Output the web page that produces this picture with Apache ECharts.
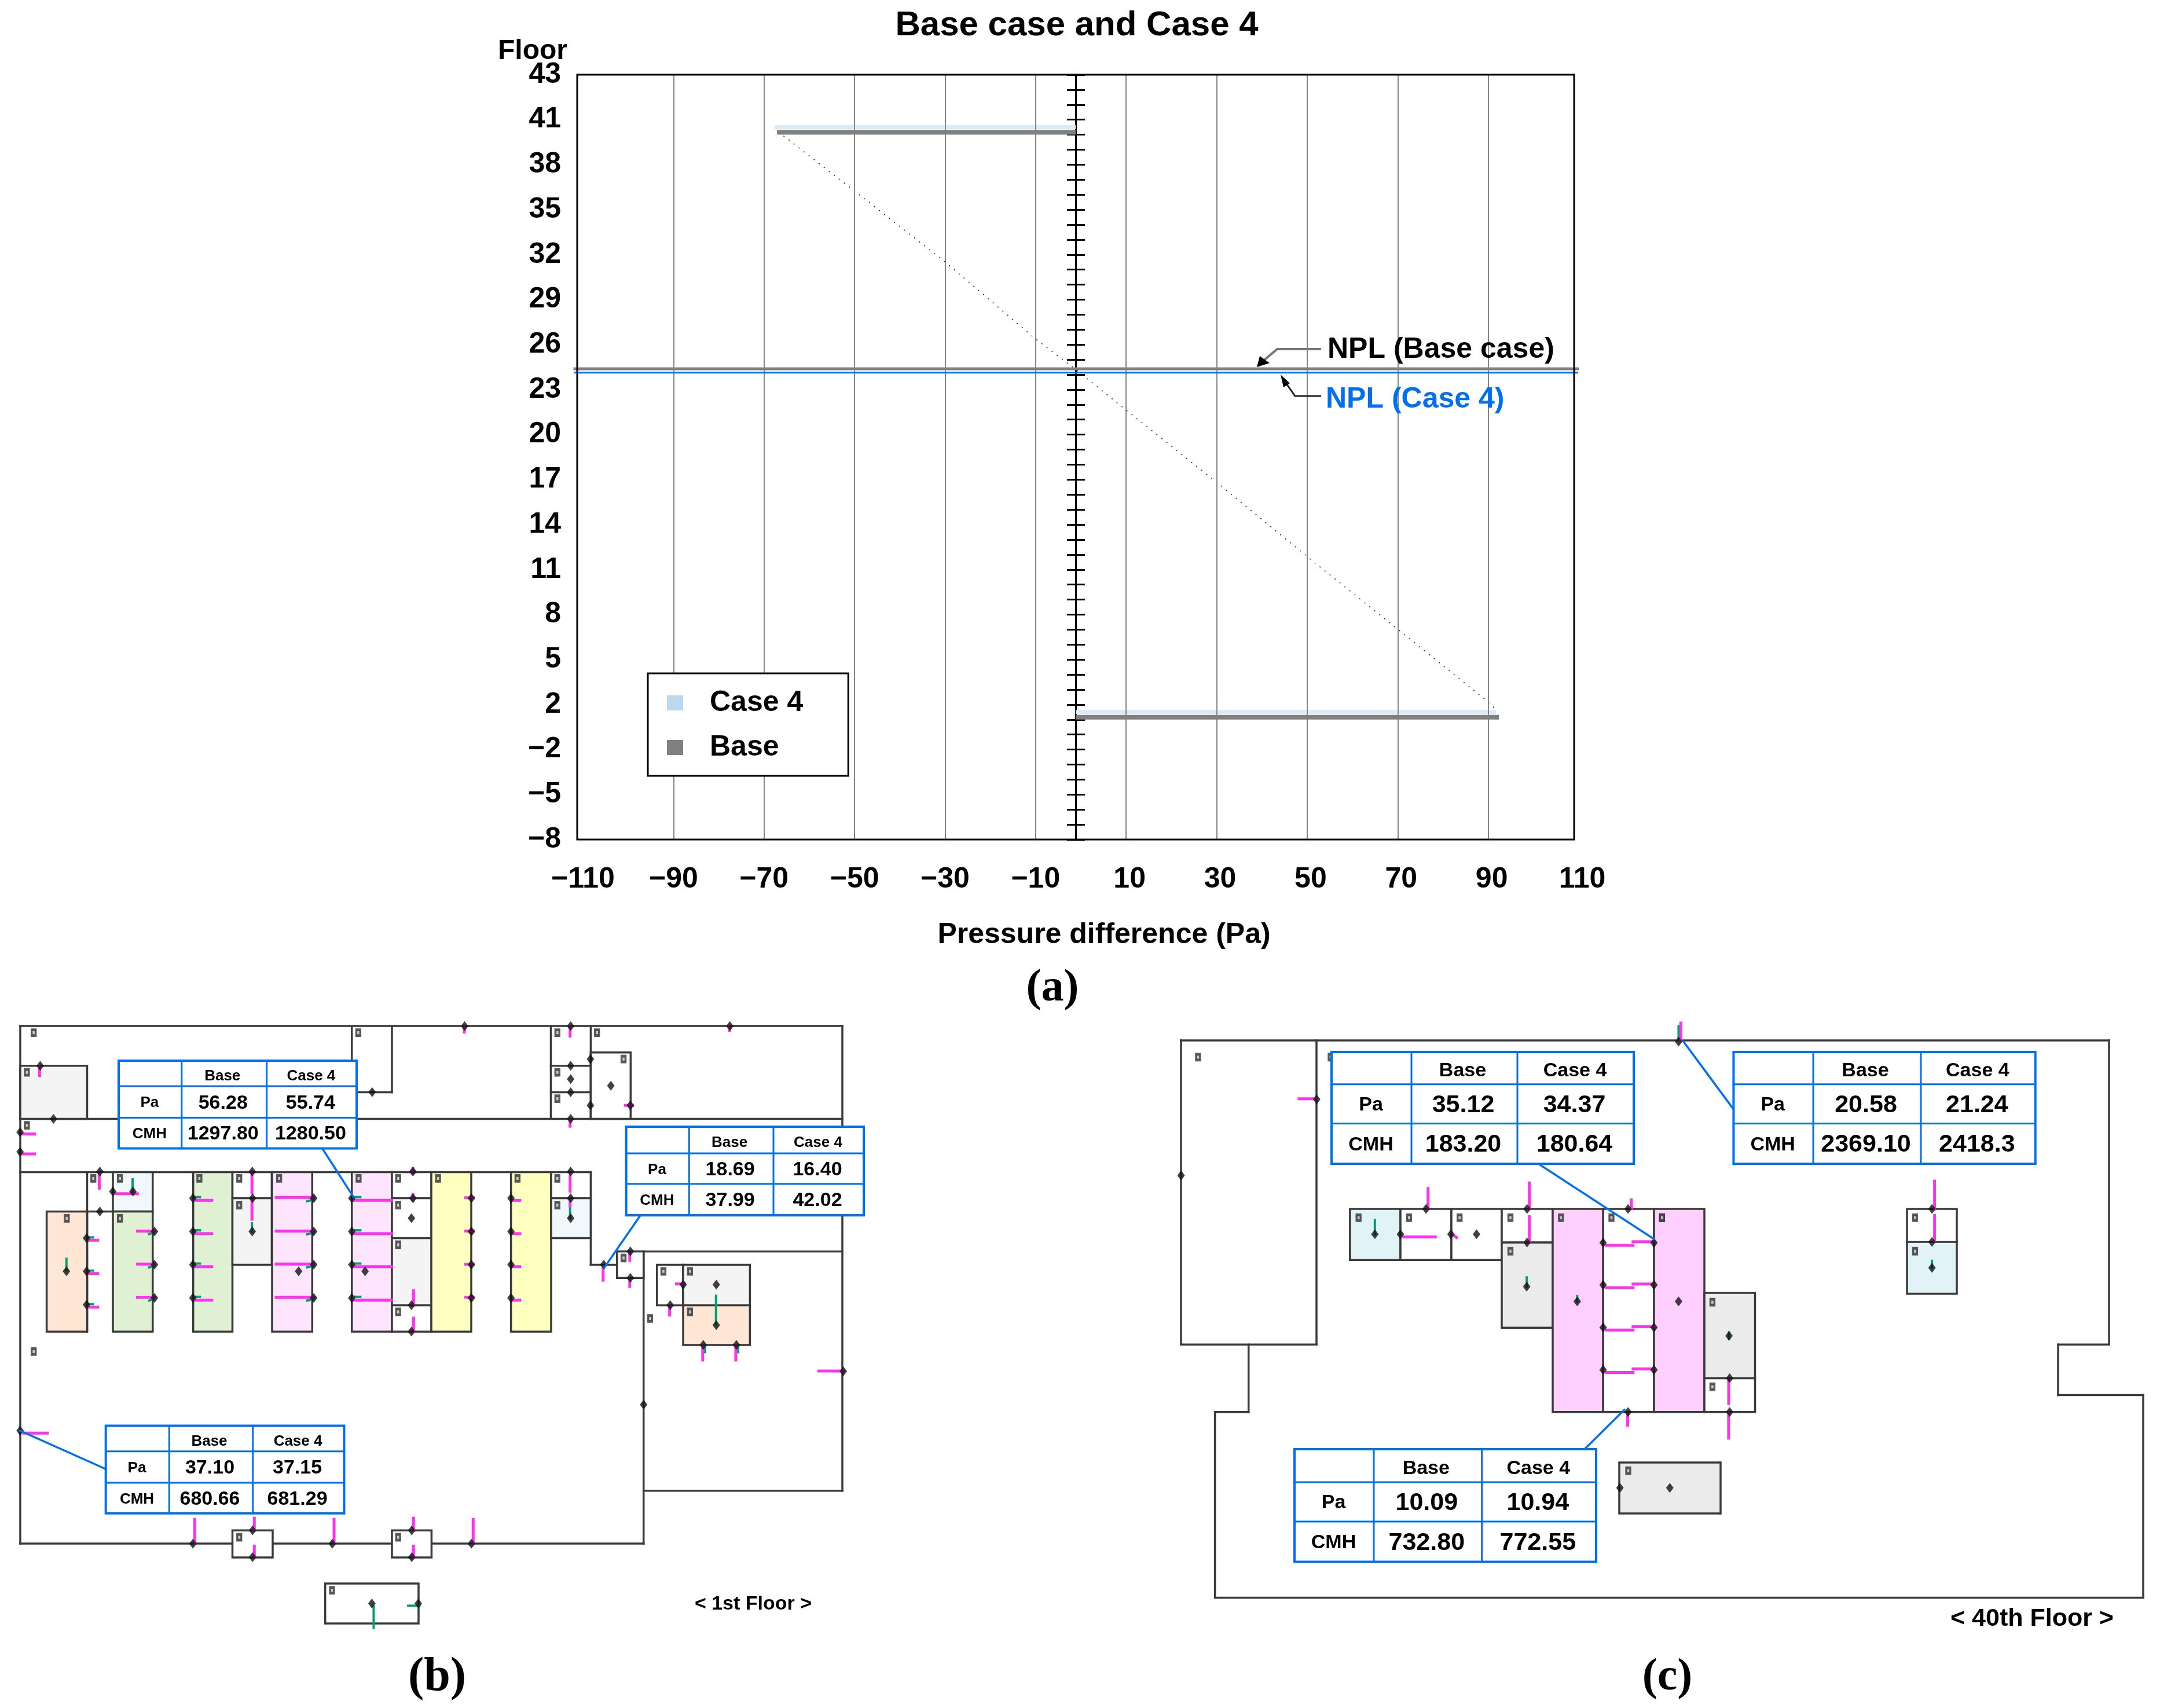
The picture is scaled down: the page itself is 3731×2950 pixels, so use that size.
<!DOCTYPE html>
<html><head><meta charset="utf-8">
<style>html,body{margin:0;padding:0;background:#fff}#c{width:3731px;height:2950px}</style>
<script src="https://cdn.jsdelivr.net/npm/echarts@6/dist/echarts.min.js"></script>
</head><body><div id="c"></div>
<script>
// ---------- Chart (a): values ----------
const xTickValues = [-110,-90,-70,-50,-30,-10,10,30,50,70,90,110];
const yTickLabels = ['−8','−5','−2','2','5','8','11','14','17','20','23','26','29','32','35','38','41','43'];
const levelOfFloor1 = 8, levelOfFloor40 = 47;        // tick index on the non-linear floor scale
const barLevels = [levelOfFloor40, levelOfFloor1];
const basePressure = [-67.15, 92.35];
const case4Pressure = [-67.7, 91.7];
const spinePressure = -1.15;
const profilePressure = [-66.8,-50,-30.2,-10.1,-1.3,9.6,30.3,50.1,70.2,89.9,92.0];
const profileLevel = [47.18,43.24,38.57,33.4,31.39,28.73,23.75,18.84,13.98,9.19,8.57];
const nplBase = [[-111.8,31.39,109.7,31.39]];
const nplCase4 = [[-111.8,31.14,109.7,31.14]];

// ---------- Tables (b),(c) ----------
const table1F_A = [['56.28','55.74'],['1297.80','1280.50']];
const table1F_B = [['18.69','16.40'],['37.99','42.02']];
const table1F_C = [['37.10','37.15'],['680.66','681.29']];
const table40F_A = [['35.12','34.37'],['183.20','180.64']];
const table40F_B = [['20.58','21.24'],['2369.10','2418.3']];
const table40F_C = [['10.09','10.94'],['732.80','772.55']];

// ---------- Floor plans: rooms [x0,y0,x1,y1,kind], walls [x0,y0,x1,y1] in plan units ----------
const roomsPlan = [
 [35,1840.7,150.5,1932.5,'gray'],[80.6,2092.5,150.5,2300,'orange'],[195,2024.4,263.8,2092.5,'ice'],
 [195,2092.5,263.8,2300,'green'],[333.7,2024.4,401.5,2300,'green'],[401.5,2024.4,469.4,2069.6,'white'],
 [401.5,2069.6,469.4,2184.4,'gray'],[470,2024.4,539.3,2300,'pink'],[607.7,2024.4,677,2300,'pink'],
 [677,2024.4,745.4,2069.6,'white'],[677,2069.6,745.4,2138.4,'white'],[677,2138.4,745.4,2254.4,'gray'],
 [677,2254.4,745.4,2300,'white'],[745,2024.4,814,2300,'yellow'],[882.7,2024.4,952,2300,'yellow'],
 [952,2024.4,1020.4,2069.6,'white'],[952,2069.6,1020.4,2138.4,'ice'],[1020.4,1817.7,1089.3,1932.5,'white'],
 [1065.8,2161.4,1111.7,2207.3,'white'],[1134.7,2184.4,1180,2254.4,'white'],[1180,2184.4,1295.4,2254.4,'gray'],
 [1180,2254.4,1295.4,2322.9,'orange'],[401.5,2643.3,471,2690,'white'],[677,2643.3,745.4,2690,'white'],
 [561.7,2735,723,2804,'white'],
 [2331.8,2088,2419,2176.3,'ice2'],[2419,2088,2507,2176.3,'white'],[2507,2088,2594,2176.3,'white'],
 [2594,2088,2682,2146,'white'],[2594,2146,2682,2293.3,'gray2'],[2682,2088,2769.2,2438.8,'pink2'],
 [2769.2,2088,2857,2438.8,'white'],[2857,2088,2944,2438.8,'pink2'],[2944,2233,3031.5,2380.4,'gray2'],
 [2944,2380.4,3031.5,2438.8,'white'],[3294,2088,3380,2145,'white'],[3294,2145,3380,2234.4,'ice2'],
 [2797,2526,2972,2614,'gray2']
];
const wallsPlan = [
 [35,1772,1455,1772],[35,1772,35,2666],[35,1932.5,1455,1932.5],[35,2024.4,1020.4,2024.4],
 [607.7,1772,607.7,1832],[677,1772,677,1886.6],[616,1886.6,677,1886.6],
 [951.5,1772,951.5,1932.5],[1020.4,1772,1020.4,1932.5],[951.5,1840.7,1020.4,1840.7],[951.5,1886.6,1020.4,1886.6],
 [1455,1772,1455,2574.8],[1020.4,2024.4,1020.4,2184.4],[1020.4,2184.4,1065.8,2184.4],[1065.8,2161.4,1455,2161.4],
 [1111.7,2161.4,1111.7,2666],[1111.7,2574.8,1455,2574.8],[35,2666,1111.7,2666],[150.5,2024.4,150.5,2300],
 [150.5,2092.5,195,2092.5],
 [2040,1796.9,3643,1796.9],[2040,1796.9,2040,2322.3],[2274,1796.9,2274,2322.3],[2040,2322.3,2274,2322.3],
 [2156.7,2322.3,2156.7,2438.8],[2098.7,2438.8,2156.7,2438.8],[2098.7,2438.8,2098.7,2759.5],[2098.7,2759.5,3702,2759.5],
 [3702,2409.5,3702,2759.5],[3555,2409.5,3702,2409.5],[3555,2322.3,3555,2409.5],[3555,2322.3,3643,2322.3],[3643,1796.9,3643,2322.3]
];

// Marks per drawing sheet (sheet units)
const tagsBNW = [[114,88],[1213,88],[91,267],[91,506],[316,746],[406,746],[675,746],[810,746],[945,746],[1214,746],[1348,746],[810,866],[1348,866],[226,926],[406,926],[1348,1045],[1348,1348],[114,1527]];
const nodesBNW = [[136,237],[181,477],[68,537],[68,626],[338,715],[382,805],[338,895],[854,715],[855,835],[854,985],[1398,715],[1398,835],[1393,925],[1260,356],[293,1015],[293,1165],[293,1316],[523,985],[523,1135],[523,1285],[653,835],[653,985],[653,1135],[653,1285],[1062,835],[1062,985],[1062,1135],[1062,1285],[1011,1165],[1191,835],[1191,985],[1191,1135],[1191,1285],[1236,1165],[225,1165],[450,805],[1393,1318],[1393,1437]];
const pinkBNW = [[134,240,134,282],[78,545,117,545],[78,635,117,635],[336,730,336,790],[392,815,465,815],[302,1025,331,1025],[302,1175,331,1175],[302,1327,331,1327],[465,983,523,983],[465,1132,523,1132],[465,1282,523,1282],[660,845,717,845],[660,995,717,995],[660,1144,717,1144],[660,1295,717,1295],[853,725,853,810],[853,845,853,930],[935,832,1062,832],[935,983,1062,983],[935,1132,1062,1132],[935,1282,1062,1282],[1198,845,1325,845],[1198,995,1325,995],[1198,1144,1325,1144],[1198,1295,1325,1295],[1400,1252,1400,1318],[1400,1376,1400,1437],[1398,700,1398,722],[1398,818,1398,845]];
const greenBNW = [[225,1108,225,1160],[449,750,449,805],[853,948,853,985],[302,1012,315,1012],[302,1162,315,1162],[302,1313,315,1313],[660,830,677,830],[660,980,677,980],[660,1130,677,1130],[660,1280,677,1280],[1202,830,1220,830],[1202,980,1220,980],[1202,1130,1220,1130],[1202,1280,1220,1280],[505,997,520,990],[505,1147,520,1140],[505,1297,520,1290],[1040,848,1060,842],[1040,998,1060,992],[1040,1147,1060,1141],[1040,1297,1060,1291]];

const tagsBNE = [[515,88],[649,88],[739,207],[515,267],[515,386],[111,746],[380,746],[515,746],[515,866],[739,1105],[874,1165],[964,1165],[964,1348],[829,1378]];
const nodesBNE = [[201,58],[560,58],[1099,58],[627,207],[560,237],[560,297],[696,327],[560,357],[627,416],[762,416],[560,477],[224,835],[224,985],[224,1135],[224,1285],[358,835],[358,985],[358,1135],[358,1285],[560,715],[560,835],[560,925],[672,1135],[762,1075],[762,1195],[897,1318],[941,1225],[1053,1225],[1053,1408],[1009,1497],[1121,1497]];
const pinkBNE = [[200,58,200,85],[558,60,558,103],[1098,60,1098,78],[558,480,558,510],[745,416,770,416],[205,833,230,833],[205,983,230,983],[205,1133,230,1133],[205,1282,230,1282],[367,845,388,845],[367,995,388,995],[367,1144,388,1144],[367,1295,388,1295],[558,735,558,803],[558,845,558,870],[670,1150,670,1205],[760,1085,760,1115],[760,1205,760,1233],[895,1320,895,1362],[918,1222,945,1222],[1007,1500,1007,1565],[1119,1500,1119,1565]];
const greenBNE = [[558,870,558,925],[1052,1275,1052,1405],[1015,1497,1015,1530],[1127,1497,1127,1530]];

const tagsBSW = [[810,928],[1348,928],[1124,1167]];
const nodesBSW = [[68,447],[653,957],[855,897],[855,1018],[1125,957],[1394,897],[1394,1018],[1259,1227],[1416,1227]];
const pinkBSW = [[80,458,160,458],[659,847,659,957],[861,842,861,897],[861,968,861,1020],[1131,847,1131,957],[1400,842,1400,897],[1400,968,1400,1020]];
const greenBSW = [[1265,1240,1265,1337],[1382,1237,1420,1237]];

const nodesBSE = [[224,957],[807,329],[1483,179]];
const pinkBSE = [[230,847,230,957],[1400,178,1483,178]];

const tagsCW = [[121,170],[520,170],[604,791],[756,791],[908,791],[1061,791],[1213,791],[1365,791],[1517,791],[1061,921]];
const nodesCW = [[70,628],[478,333],[807,757],[1111,757],[1415,757],[730,855],[882,855],[1111,887],[653,855],[959,855],[1262,1115],[1110,1058],[1340,888],[1340,1051],[1340,1216],[1340,1380],[1493,888],[1493,1051],[1493,1216],[1493,1380],[1415,1543]];
const pinkCW = [[813,678,813,757],[1118,657,1118,757],[1425,722,1425,757],[1118,787,1118,885],[425,331,478,331],[740,865,835,865],[893,862,899,868],[1350,898,1430,898],[1430,884,1493,884],[1350,1062,1430,1062],[1430,1048,1493,1048],[1350,1226,1430,1226],[1430,1213,1493,1213],[1350,1390,1430,1390],[1430,1376,1493,1376]];
const greenCW = [[653,800,653,855],[1110,1022,1110,1058],[1262,1095,1262,1115]];

const tagsCE = [[37,791],[192,1118],[192,1445],[815,791],[815,921]];
const nodesCE = [[88,1115],[243,1248],[245,1412],[245,1543],[867,757],[867,885],[867,985],[88,110]];
const pinkCE = [[875,650,875,757],[875,782,875,880],[242,1420,242,1510],[95,38,95,105]];
const greenCE = [[88,50,88,105],[867,958,867,985],[243,1235,243,1260]];

const tagsCS = [[736,497]];
const nodesCS = [[723,574],[801,574]];
const pinkCS = [[735,240,735,292],[893,235,893,350]];

const FONT = '"Liberation Sans", Arial, sans-serif';
const BLUE = '#0070F0';
const roomFill = {white:'#ffffff',gray:'#F4F4F4',orange:'#FFE6D5',ice:'#F0F8FB',green:'#E0F0D2',pink:'#FDE6FD',yellow:'#FFFFBF',ice2:'#E2F3F8',gray2:'#EBEBEB',pink2:'#FFCFFF'};

const sheets = [
 {rect:[0,1750,800,600],tags:tagsBNW,nodes:nodesBNW,pink:pinkBNW,green:greenBNW},
 {rect:[700,1750,800,600],tags:tagsBNE,nodes:nodesBNE,pink:pinkBNE,green:greenBNE},
 {rect:[0,2300,800,600],tags:tagsBSW,nodes:nodesBSW,pink:pinkBSW,green:greenBSW},
 {rect:[700,2300,800,600],tags:[],nodes:nodesBSE,pink:pinkBSE,green:[]},
 {rect:[2000,1750,900,700],tags:tagsCW,nodes:nodesCW,pink:pinkCW,green:greenCW},
 {rect:[2850,1750,881,700],tags:tagsCE,nodes:nodesCE,pink:pinkCE,green:greenCE},
 {rect:[2000,2350,1731,600],tags:tagsCS,nodes:nodesCS,pink:pinkCS,green:[]}
];

// ---------- Axes ----------
const grid = [
 {left:1007,top:129,width:1720,height:1321},
 {left:0,top:1750,width:3731,height:1200}
];
const spineOffset = -851;
const labelStyle = {fontFamily:FONT,fontWeight:'bold',fontSize:50,color:'#000'};
const xAxis = [{
  gridIndex:0,type:'value',min:-110,max:110,interval:10,
  axisLine:{show:false},axisTick:{show:false},splitLine:{show:false},
  axisLabel:{margin:44,...labelStyle,hideOverlap:false,showMinLabel:true,showMaxLabel:true,
    rich:{pos:{...labelStyle,padding:[0,0,0,12]}},
    formatter:v=>xTickValues.includes(v)?(v>0?`{pos|${v}}`:String(v).replace('-','−')):''},
  name:'Pressure difference (Pa)',nameLocation:'middle',nameGap:140,
  nameTextStyle:{...labelStyle,padding:[0,0,0,80]}
 },{gridIndex:1,type:'value',min:0,max:3731,show:false}];
const yAxis = [
 {gridIndex:0,type:'value',min:0,max:51,interval:3,
  axisLine:{show:false},axisTick:{show:false},splitLine:{show:false},
  axisLabel:{margin:38,...labelStyle,padding:[6,0,0,0],
    formatter:v=>yTickLabels[Math.round(v/3)]}},
 {gridIndex:0,type:'value',min:0,max:51,interval:1,position:'left',offset:spineOffset,
  axisLine:{show:true,lineStyle:{color:'#000',width:3}},axisLabel:{show:false},splitLine:{show:false},
  axisTick:{show:true,length:15,lineStyle:{color:'#000',width:3}}},
 {gridIndex:0,type:'value',min:0,max:51,interval:1,position:'left',offset:spineOffset,
  axisLine:{show:false},axisLabel:{show:false},splitLine:{show:false},
  axisTick:{show:true,inside:true,length:16,lineStyle:{color:'#000',width:3}}},
 {gridIndex:1,type:'value',min:1750,max:2950,inverse:true,show:false}
];
sheets.forEach(s=>{
  const g=grid.length;
  grid.push({left:s.rect[0],top:s.rect[1],width:s.rect[2],height:s.rect[3]});
  xAxis.push({gridIndex:g,type:'value',min:0,max:1568,show:false});
  yAxis.push({gridIndex:g,type:'value',min:0,max:1568,inverse:true,show:false});
  s.xi=xAxis.length-1; s.yi=yAxis.length-1;
});

// ---------- Series ----------
const barSeries=(name,pressures,color,upper,thick,z)=>({
  name,type:'custom',xAxisIndex:0,yAxisIndex:0,z,clip:false,
  itemStyle:{color},
  encode:{x:[0,1],y:2},
  data:pressures.map((p,i)=>[p,spinePressure,barLevels[i]]),
  renderItem:(params,api)=>{
    const a=api.coord([api.value(0),api.value(2)]), b=api.coord([api.value(1),api.value(2)]);
    return {type:'rect',shape:{x:Math.min(a[0],b[0]),y:a[1]-upper,width:Math.abs(a[0]-b[0]),height:thick},style:{fill:color}};
  }
});
const segments=(data,xi,yi,color,width,z)=>({
  type:'custom',xAxisIndex:xi,yAxisIndex:yi,z,clip:false,silent:true,data,
  encode:{x:[0,2],y:[1,3]},
  renderItem:(params,api)=>{
    const a=api.coord([api.value(0),api.value(1)]), b=api.coord([api.value(2),api.value(3)]);
    return {type:'line',shape:{x1:a[0],y1:a[1],x2:b[0],y2:b[1]},style:{stroke:color,lineWidth:width,lineCap:'square'}};
  }
});
const series=[
 {type:'line',name:'Pressure profile',xAxisIndex:0,yAxisIndex:0,z:3,showSymbol:false,symbol:'none',
  data:profilePressure.map((p,i)=>[p,profileLevel[i]]),
  lineStyle:{color:'#222',width:1.6,type:[2,9]},
  markLine:{silent:true,symbol:'none',animation:false,label:{show:false},
    lineStyle:{color:'#858585',width:2,type:'solid'},
    data:xTickValues.slice(1,-1).map(v=>({xAxis:v}))}},
 barSeries('Case 4',case4Pressure,'#D9EAF8',16.5,7,4),
 barSeries('Base',basePressure,'#808080',8,8,5),
 {...segments(nplBase,0,0,'#808080',5,6),name:'NPL (Base case)'},
 {...segments(nplCase4,0,0,BLUE,3,6),name:'NPL (Case 4)'},
 segments(wallsPlan,1,3,'#3a3a3a',3.5,2),
 {type:'custom',xAxisIndex:1,yAxisIndex:3,z:3,clip:false,silent:true,data:roomsPlan,encode:{x:[0,2],y:[1,3]},
  renderItem:(params,api)=>{
    const a=api.coord([api.value(0),api.value(1)]), b=api.coord([api.value(2),api.value(3)]);
    return {type:'rect',shape:{x:a[0],y:a[1],width:b[0]-a[0],height:b[1]-a[1]},
      style:{fill:roomFill[roomsPlan[params.dataIndex][4]],stroke:'#3a3a3a',lineWidth:3.5}};
  }}
];
sheets.forEach(s=>{
  series.push(segments(s.green,s.xi,s.yi,'#00A070',4,4));
  series.push(segments(s.pink,s.xi,s.yi,'#FF33EE',5,5));
  series.push({type:'scatter',xAxisIndex:s.xi,yAxisIndex:s.yi,z:6,clip:false,silent:true,data:s.nodes,
    symbol:'diamond',symbolSize:[13,17],itemStyle:{color:'#111'}});
  series.push({type:'scatter',xAxisIndex:s.xi,yAxisIndex:s.yi,z:6,clip:false,silent:true,data:s.tags,
    symbol:'rect',symbolSize:[7,10],itemStyle:{color:'#bbb',borderColor:'#333',borderWidth:4}});
});

// ---------- Annotations, tables ----------
const graphics=[];
const txt=(text,x,y,font,fill,align)=>({type:'text',z:60,silent:true,x,y,
  style:{text,font,fill:fill||'#000',textAlign:align||'center',textVerticalAlign:'middle'}});
const bold=s=>`bold ${s}px ${FONT}`;
const line=(x1,y1,x2,y2,c,w)=>({type:'line',z:56,silent:true,shape:{x1,y1,x2,y2},style:{stroke:c,lineWidth:w,lineCap:'square'}});

graphics.push({type:'rect',z:50,silent:true,shape:{x:997,y:129,width:1722,height:1321},style:{fill:'none',stroke:'#000',lineWidth:3}});
graphics.push(txt('Base case and Case 4',1860,44,bold(60)));
graphics.push(txt('Floor',920,89,bold(48)));
graphics.push(txt('NPL (Base case)',2293,604,bold(50),'#000','left'));
graphics.push(txt('NPL (Case 4)',2290,690,bold(50),BLUE,'left'));
graphics.push({type:'polyline',z:56,silent:true,shape:{points:[[2282,603],[2206,603],[2180,625]]},style:{stroke:'#777',lineWidth:4,fill:'none'}});
graphics.push({type:'polygon',z:56,silent:true,shape:{points:[[2171,634],[2176,615],[2193,627]]},style:{fill:'#000'}});
graphics.push({type:'polyline',z:56,silent:true,shape:{points:[[2282,684],[2237,684],[2220,660]]},style:{stroke:'#222',lineWidth:3,fill:'none'}});
graphics.push({type:'polygon',z:56,silent:true,shape:{points:[[2212,647],[2228,662],[2217,669]]},style:{fill:'#000'}});

const serif=s=>`bold ${s}px "Liberation Serif", serif`;
graphics.push(txt('(a)',1818,1708,serif(78)));
graphics.push(txt('(b)',755,2898,serif(82)));
graphics.push(txt('(c)',2880,2898,serif(78)));
graphics.push(txt('< 1st Floor >',1301,2771,bold(34)));
graphics.push(txt('< 40th Floor >',3510,2796,bold(43)));

function addTable(values,xs,ys,numFs,hdrFs,leader){
  if(leader) graphics.push(line(leader[0],leader[1],leader[2],leader[3],BLUE,3.5));
  graphics.push({type:'rect',z:55,silent:true,shape:{x:xs[0],y:ys[0],width:xs[3]-xs[0],height:ys[3]-ys[0]},style:{fill:'#fff',stroke:BLUE,lineWidth:4}});
  [1,2].forEach(i=>{graphics.push(line(xs[i],ys[0],xs[i],ys[3],BLUE,3));graphics.push(line(xs[0],ys[i],xs[3],ys[i],BLUE,3));});
  const cx=i=>(xs[i]+xs[i+1])/2, cy=i=>(ys[i]+ys[i+1])/2;
  graphics.push(txt('Base',cx(1)-3,cy(0)+5,bold(hdrFs)));
  graphics.push(txt('Case 4',cx(2)-1,cy(0)+5,bold(hdrFs)));
  graphics.push(txt('Pa',cx(0)-1,cy(1)+2,bold(hdrFs)));
  graphics.push(txt('CMH',cx(0)-1,cy(2)+2,bold(hdrFs)));
  values.forEach((row,r)=>row.forEach((v,c)=>graphics.push(txt(v,cx(c+1)-2,cy(r+1)+2,bold(numFs)))));
}
addTable(table1F_A,[205,313.8,460.7,616],[1832,1876,1930.6,1983.5],34,26,[557,1984,610.7,2067.6]);
addTable(table1F_B,[1081.6,1190.3,1336,1492],[1946,1992,2044.7,2099],34,26,[1105.6,2100,1043.4,2190]);
addTable(table1F_C,[182.7,292.3,436.7,594.4],[2462.6,2506.7,2561,2613.8],34,26,[34.7,2471,182.7,2537.3]);
addTable(table40F_A,[2300,2438,2621,2822],[1817,1872.8,1940.6,2010],43,34,[2661,2012.5,2857,2140]);
addTable(table40F_B,[2994.4,3132,3318,3515.7],[1817,1872.8,1940.6,2010],43,34,[2908,1799,2994.4,1916]);
addTable(table40F_C,[2236,2373,2559.6,2757],[2503,2560,2628,2697.5],43,34,[2737,2503,2805.7,2435]);

const chart=echarts.init(document.getElementById('c'),null,{renderer:'canvas'});
chart.setOption({
  animation:false,backgroundColor:'#fff',
  grid,xAxis,yAxis,series,graphic:{elements:graphics},
  legend:{
    orient:'vertical',left:1119,top:1163,z:20,
    backgroundColor:'#fff',borderColor:'#000',borderWidth:3,borderRadius:0,
    padding:[26,78,24,33],itemGap:27,itemWidth:28,itemHeight:26,icon:'rect',
    textStyle:{fontFamily:FONT,fontWeight:'bold',fontSize:50,color:'#000',padding:[0,0,0,41]},
    data:[{name:'Case 4',itemStyle:{color:'#BDD7EE'}},{name:'Base',itemStyle:{color:'#808080'}}]
  }
});
</script></body></html>
